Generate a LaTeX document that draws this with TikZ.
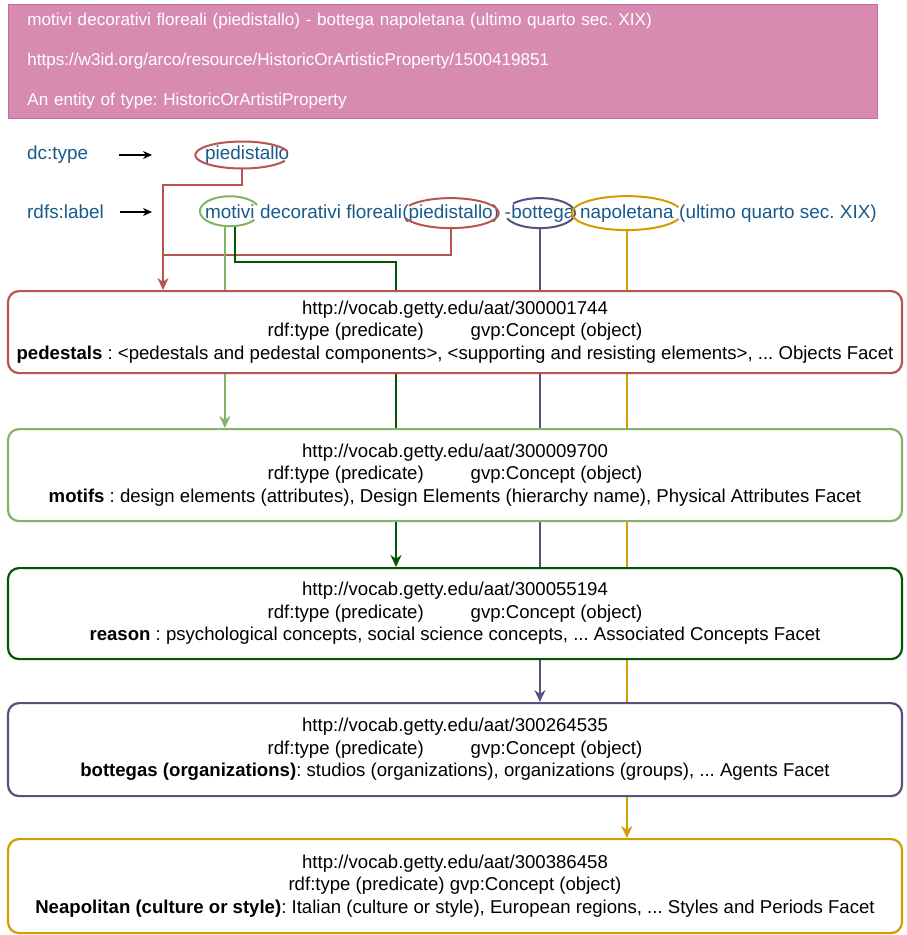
\documentclass[tikz,border=0pt]{standalone}
\usepackage{fontspec}
\setmainfont{Liberation Sans}
\usetikzlibrary{arrows.meta,shapes.geometric,backgrounds}
\frenchspacing
\definecolor{pinkfill}{RGB}{216,139,177}
\definecolor{pinkline}{RGB}{204,104,160}
\definecolor{lblblue}{RGB}{24,90,138}
\definecolor{redc}{HTML}{B85450}
\definecolor{lgreen}{HTML}{82B366}
\definecolor{dgreen}{HTML}{005700}
\definecolor{purp}{HTML}{56517E}
\definecolor{orng}{HTML}{D79B00}
\newcommand\hoop[7]{%
  \node[ellipse,inner sep=0pt,minimum width=2*#4,minimum height=2*#5] (#1) at (#2) {};
  \draw[#3,line width=2pt] ([shift={(#6:#4 and #5)}]#1.center)
    arc[start angle=#6,delta angle=#7,x radius=#4,y radius=#5];}
\begin{document}
\begin{tikzpicture}[x=1pt,y=1pt,
	concept/.style={draw=#1,line width=2.2pt,rounded corners=11pt,fill=white,
		minimum width=894pt,align=center,anchor=north,
		font=\fontsize{18.6}{22.5}\selectfont},
	lbl/.style={inner sep=0pt,text=lblblue,font=\fontsize{18.9}{22}\selectfont},
	link/.style={draw=#1,line width=2pt},
	tip/.style={-{Stealth[length=12pt,width=11pt]}},
	pointer/.style={-{Stealth[length=9pt,width=8pt]},line width=1.3pt,shorten >=53pt}]
\useasboundingbox (0,0) rectangle (906,-935);
\node[draw=pinkline,fill=pinkfill,line width=0.8pt,anchor=north west,
	minimum width=869pt,minimum height=114pt,inner xsep=19pt,text width=831pt,
	align=left,text=white,font=\fontsize{17.1}{20}\selectfont] (subj) at (8,-4)
	{motivi decorativi floreali (piedistallo) - bottega napoletana (ultimo quarto sec. XIX)\\[20pt]
	https://w3id.org/arco/resource/HistoricOrArtisticProperty/1500419851\\[20pt]
	An entity of type: HistoricOrArtistiProperty};

\node[lbl,anchor=west] (dctype) at (27,-155) {dc:type};
\node[lbl,anchor=west] (typeval) at (205,-155) {piedistallo};
\node[lbl,anchor=west] (rdfslabel) at (27,-212) {rdfs:label};
\node[lbl,anchor=base west] (wMot) at (205,-218) {motivi};
\node[lbl,anchor=base west] (wFlo) at (wMot.base east) {~decorativi floreali~};
\node[lbl,anchor=base west] (wPie) at (wFlo.base east) {(piedistallo)};
\node[lbl,anchor=base west] (wDash) at (wPie.base east) {~-~};
\node[lbl,anchor=base west] (wBot) at (wDash.base east) {bottega};
\node[lbl,anchor=base west] (wNap) at ([xshift=5.2pt]wBot.base east) {napoletana};
\node[lbl,anchor=base west] (wRest) at ([xshift=5.2pt]wNap.base east) {(ultimo quarto sec. XIX)};

\draw[pointer,shorten <=31pt] (dctype.east) -- (typeval.west);
\draw[pointer,shorten <=16pt] (rdfslabel.east) -- (rdfslabel.east -| wMot.west);

\hoop{oType}{[xshift=-5pt]typeval.center}{redc}{47pt}{13.5pt}{15}{320}
\hoop{oMot}{wMot.center}{lgreen}{30pt}{15pt}{25}{300}
\hoop{oPie}{wPie.center}{redc}{48pt}{15pt}{200}{310}
\hoop{oBot}{[xshift=-3pt]wBot.center}{purp}{35pt}{15pt}{200}{300}
\hoop{oNap}{wNap.center}{orng}{55pt}{17pt}{20}{320}

\node[concept=redc,minimum height=82pt] (b1) at (455,-290)
	{http://vocab.getty.edu/aat/300001744\\
	rdf:type (predicate)\hspace{47pt}gvp:Concept (object)\\
	\textbf{pedestals} : <pedestals and pedestal components>, <supporting and resisting elements>, ... Objects Facet};
\node[concept=lgreen,minimum height=92pt] (b2) at (455,-428)
	{http://vocab.getty.edu/aat/300009700\\
	rdf:type (predicate)\hspace{47pt}gvp:Concept (object)\\
	\textbf{motifs} : design elements (attributes), Design Elements (hierarchy name), Physical Attributes Facet};
\node[concept=dgreen,minimum height=91pt] (b3) at (455,-567)
	{http://vocab.getty.edu/aat/300055194\\
	rdf:type (predicate)\hspace{47pt}gvp:Concept (object)\\
	\textbf{reason} : psychological concepts, social science concepts, ... Associated Concepts Facet};
\node[concept=purp,minimum height=93pt] (b4) at (455,-702)
	{http://vocab.getty.edu/aat/300264535\\
	rdf:type (predicate)\hspace{47pt}gvp:Concept (object)\\
	\textbf{bottegas (organizations)}: studios (organizations), organizations (groups), ... Agents Facet};
\node[concept=orng,minimum height=94pt] (b5) at (455,-838)
	{http://vocab.getty.edu/aat/300386458\\
	rdf:type (predicate) gvp:Concept (object)\\
	\textbf{Neapolitan (culture or style)}: Italian (culture or style), European regions, ... Styles and Periods Facet};

\begin{scope}[on background layer]
\coordinate (rCol) at (163,-185);
\coordinate (lgX) at ([xshift=-5pt]oMot.south);
\coordinate (dgX) at ([xshift=5pt]oMot.south);
\coordinate (dgCol) at (396,-262);
\draw[link=redc,tip] (oType.south) |- (rCol) -- (rCol |- b1.north);
\draw[link=redc] (oPie.south) |- ([yshift=-70pt]rCol);
\draw[link=lgreen,tip] (lgX) -- (lgX |- b2.north);
\draw[link=dgreen,tip] (dgX) |- (dgCol) -- (dgCol |- b3.north);
\draw[link=purp,tip] (oBot.south) -- (oBot.south |- b4.north);
\draw[link=orng,tip] (oNap.south) -- (oNap.south |- b5.north);
\end{scope}
\end{tikzpicture}
\end{document}
